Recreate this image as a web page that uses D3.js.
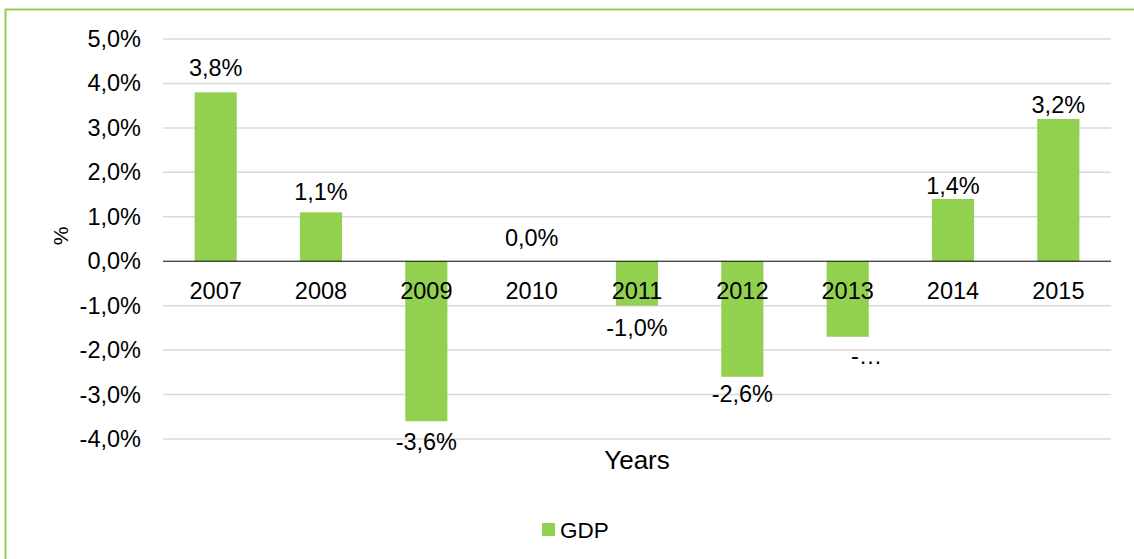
<!DOCTYPE html>
<html>
<head>
<meta charset="utf-8">
<script src="https://cdn.jsdelivr.net/npm/d3@7"></script>
<style>
  html, body { margin: 0; padding: 0; background: #fff; }
  svg { display: block; font-family: "Liberation Sans", Arial, sans-serif; }
</style>
</head>
<body>
<svg id="chart" width="1134" height="559"></svg>
<script>
// GDP growth by year (%)
const years = ["2007", "2008", "2009", "2010", "2011", "2012", "2013", "2014", "2015"];
const gdp = [3.8, 1.1, -3.6, 0.0, -1.0, -2.6, -1.7, 1.4, 3.2];
// Data label text; the 2013 label is shown truncated
const valueLabels = ["3,8%", "1,1%", "-3,6%", "0,0%", "-1,0%", "-2,6%", "-…", "1,4%", "3,2%"];
const yTicks = [5, 4, 3, 2, 1, 0, -1, -2, -3, -4];
const seriesName = "GDP";
const xTitle = "Years";
const yTitle = "%";

const green = "#92d050";
const svg = d3.select("#chart");

// Outer chart border
svg.append("rect")
  .attr("x", 5.5).attr("y", 9.5)
  .attr("width", 1200).attr("height", 700)
  .attr("fill", "none").attr("stroke", green).attr("stroke-width", 2);

const plot = { left: 163, right: 1111, top: 39, bottom: 439 };

const x = d3.scaleBand().domain(years).range([plot.left, plot.right]).paddingInner(0.6).paddingOuter(0.3);
const y = d3.scaleLinear().domain([-4, 5]).range([plot.bottom, plot.top]);

const fmt = v => (v < 0 ? "-" : "") + d3.format(".1f")(Math.abs(v)).replace(".", ",") + "%";

// Horizontal gridlines
svg.append("g").selectAll("line").data(yTicks.filter(t => t !== 0)).join("line")
  .attr("x1", plot.left).attr("x2", plot.right)
  .attr("y1", d => y(d)).attr("y2", d => y(d))
  .attr("stroke", "#d9d9d9").attr("stroke-width", 1.5);

// Y tick labels
const yAxis = d3.axisLeft(y).tickValues(yTicks).tickFormat(fmt).tickSize(0).tickPadding(22);
const yg = svg.append("g").attr("transform", `translate(${plot.left},0)`).call(yAxis);
yg.select(".domain").remove();
yg.selectAll("text").attr("font-size", 23.5).attr("fill", "#000")
  .attr("font-family", "'Liberation Sans', Arial, sans-serif");

// Bars
svg.append("g").selectAll("rect").data(years).join("rect")
  .attr("x", d => x(d))
  .attr("width", x.bandwidth())
  .attr("y", (d, i) => Math.min(y(gdp[i]), y(0)))
  .attr("height", (d, i) => Math.abs(y(gdp[i]) - y(0)))
  .attr("fill", green);

// Zero axis line
svg.append("line")
  .attr("x1", plot.left).attr("x2", plot.right)
  .attr("y1", y(0)).attr("y2", y(0))
  .attr("stroke", "#000").attr("stroke-width", 1);

// Category labels just below the zero line
const xAxis = d3.axisBottom(x).tickSize(0).tickPadding(21);
const xg = svg.append("g").attr("transform", `translate(0,${y(0)})`).call(xAxis);
xg.select(".domain").remove();
xg.selectAll("text").attr("font-size", 23.5).attr("fill", "#000")
  .attr("font-family", "'Liberation Sans', Arial, sans-serif");

// Value labels: distance of each label baseline from its bar end
const labelGap = [16, 12.5, 28.5, 15, 30, 25, 27, 5.5, 6.5];
svg.append("g").selectAll("text").data(years).join("text")
  .attr("x", (d, i) => x(d) + x.bandwidth() / 2 + (valueLabels[i] === "-…" ? 19 : 0))
  .attr("y", (d, i) => gdp[i] >= 0 ? y(gdp[i]) - labelGap[i] : y(gdp[i]) + labelGap[i])
  .attr("text-anchor", "middle")
  .attr("font-size", 23.5)
  .attr("fill", "#000")
  .text((d, i) => valueLabels[i]);

// Axis titles
svg.append("text")
  .attr("x", 637).attr("y", 469)
  .attr("text-anchor", "middle").attr("font-size", 26).attr("fill", "#000")
  .text(xTitle);

svg.append("text")
  .attr("transform", "translate(68,236) rotate(-90)")
  .attr("text-anchor", "middle").attr("font-size", 21).attr("fill", "#000")
  .text(yTitle);

// Legend
const legend = svg.append("g").attr("transform", "translate(542,523)");
legend.append("rect").attr("width", 13).attr("height", 13).attr("fill", green);
legend.append("text").attr("x", 18).attr("y", 14.5)
  .attr("font-size", 22.5).attr("fill", "#000").text(seriesName);
</script>
</body>
</html>
